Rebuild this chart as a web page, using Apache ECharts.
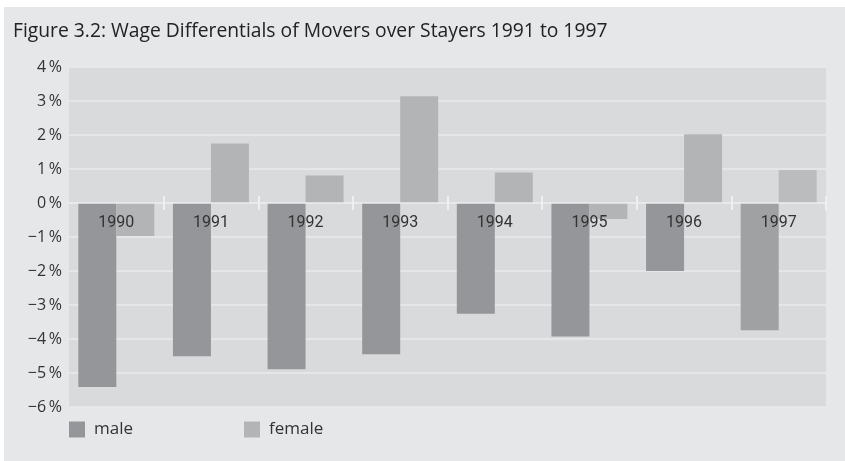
<!DOCTYPE html>
<html>
<head>
<meta charset="utf-8">
<script src="https://cdn.jsdelivr.net/npm/echarts@6/dist/echarts.min.js"></script>
<style>
html,body{margin:0;padding:0;background:#fff;}
#c{width:845px;height:461px;}
</style>
</head>
<body>
<div id="c"></div>
<script>
const titleText = 'Figure 3.2: Wage Differentials of Movers over Stayers 1991 to 1997';
const years = ['1990','1991','1992','1993','1994','1995','1996','1997'];
const male = [-5.41, -4.51, -4.89, -4.45, -3.26, -3.93, -2.0, -3.74];
const female = [-0.97, 1.75, 0.81, 3.14, 0.9, -0.47, 2.02, 0.97];
const seriesNames = ['male', 'female'];
const yMin = -6, yMax = 4, yStep = 1;

const chart = echarts.init(document.getElementById('c'), null, {renderer: 'canvas'});
const maleColor = '#95969a', femaleColor = '#b3b4b6';
const font = "'Open Sans', sans-serif";

const gridTop = 67, gridBottom = 54, H = 461;
const plotH = H - gridTop - gridBottom;
const zeroFromBottom = plotH * (0 - yMin) / (yMax - yMin);
const zeroFromTop = plotH - zeroFromBottom;
const tickInterval = (i) => i !== 0;

chart.setOption({
  backgroundColor: '#ffffff',
  animation: false,
  graphic: [{
    type: 'rect', left: 4, top: 7, z: -10,
    shape: {width: 841, height: 454},
    style: {fill: '#e6e7e9'}
  }],
  title: {
    text: titleText, left: 8, top: 17,
    textStyle: {fontFamily: font, fontSize: 19.3, fontWeight: 'normal', color: '#222'}
  },
  legend: [
    {data: [seriesNames[0]], left: 64, top: 416, itemWidth: 16, itemHeight: 16, icon: 'rect',
     textStyle: {fontFamily: font, fontSize: 17, color: '#333', padding: [0, 0, 0, 4]}},
    {data: [seriesNames[1]], left: 239, top: 416, itemWidth: 16, itemHeight: 16, icon: 'rect',
     textStyle: {fontFamily: font, fontSize: 17, color: '#333', padding: [0, 0, 0, 4]}}
  ],
  grid: {left: 69, right: 19, top: gridTop, bottom: gridBottom, show: true, backgroundColor: '#d9dadc', borderWidth: 0, containLabel: false},
  xAxis: [{
    type: 'category', data: years, z: 10, position: 'bottom', offset: -zeroFromBottom,
    axisLine: {onZero: false, lineStyle: {color: '#e9eaec', width: 1.5}},
    axisTick: {show: true, length: 7, lineStyle: {color: '#eeeff0', width: 2}, interval: tickInterval},
    axisLabel: {margin: 12, fontFamily: 'Roboto, sans-serif', fontSize: 16, color: '#333'}
  }, {
    type: 'category', data: years, z: 10, position: 'top', offset: -zeroFromTop,
    axisLine: {show: false, onZero: false},
    axisTick: {show: true, length: 7, lineStyle: {color: '#eeeff0', width: 2}, interval: tickInterval},
    axisLabel: {show: false}
  }],
  yAxis: {
    type: 'value', min: yMin, max: yMax, interval: yStep,
    axisLine: {show: false}, axisTick: {show: false},
    splitLine: {lineStyle: {color: '#e9eaec', width: 1.5}},
    axisLabel: {
      margin: 7, fontFamily: font, fontSize: 16, color: '#333',
      formatter: v => (v < 0 ? '\u2212' + (-v) : String(v)) + '\u2009%'
    }
  },
  series: [{
    name: seriesNames[0], type: 'bar', data: male.map((v, i) => i === 7 ? {value: v, itemStyle: {color: '#a0a1a3'}} : v),
    itemStyle: {color: maleColor}, barGap: '0%', barCategoryGap: '19.7%'
  }, {
    name: seriesNames[1], type: 'bar', data: female.map((v, i) => i === 7 ? {value: v, itemStyle: {color: '#bbbcbe'}} : v),
    itemStyle: {color: femaleColor}, barGap: '0%', barCategoryGap: '19.7%'
  }]
});
</script>
</body>
</html>
